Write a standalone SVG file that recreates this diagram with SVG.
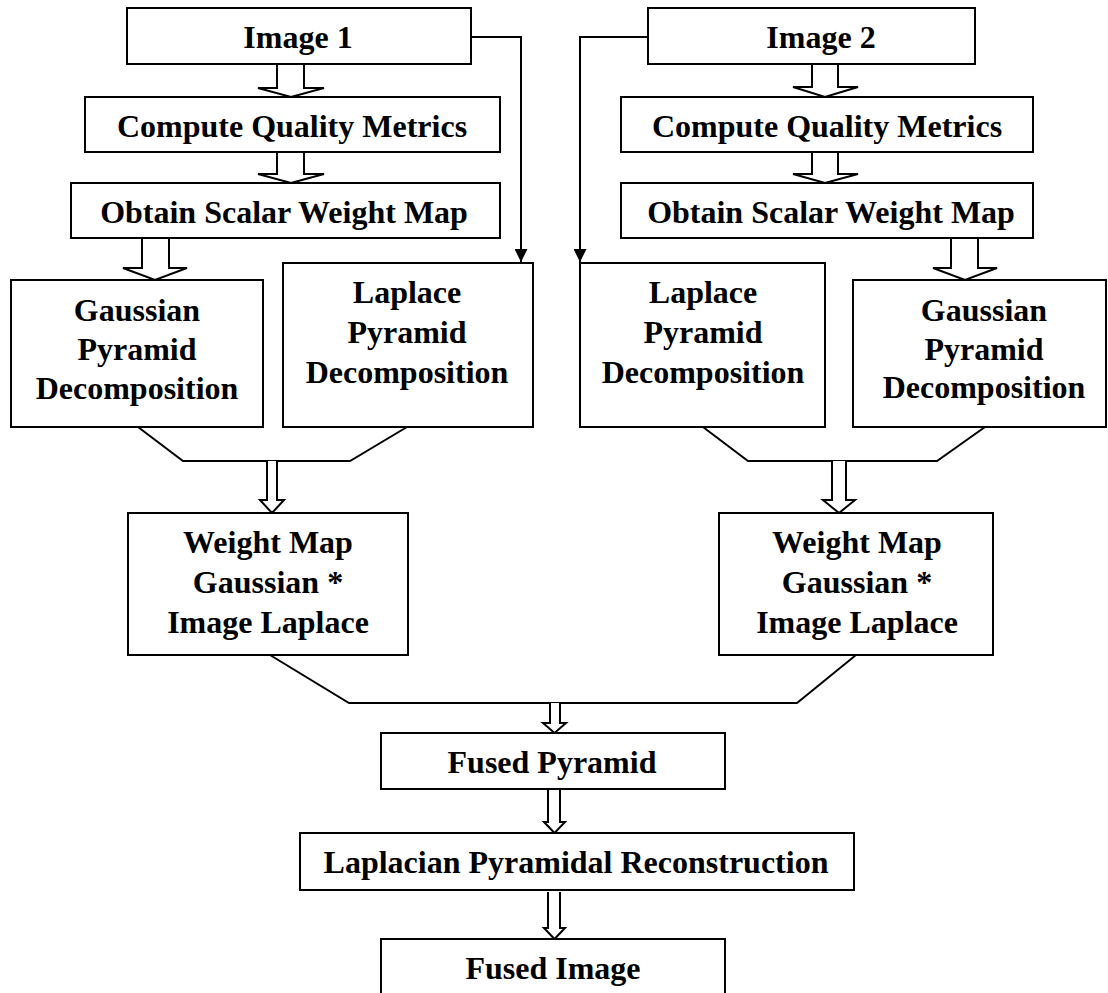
<svg xmlns="http://www.w3.org/2000/svg" width="1108" height="993" viewBox="0 0 1108 993">
<style>
.box{fill:#fff;stroke:#000;stroke-width:2}
.t{font-family:"Liberation Serif","Times New Roman",serif;font-weight:bold;font-size:32px;text-anchor:middle;fill:#000}
.ha{fill:#fff;stroke:#000;stroke-width:2;stroke-linejoin:miter}
.ln{fill:none;stroke:#000;stroke-width:2}
</style>
<defs>
<marker id="ah" viewBox="0 0 10 10" refX="10" refY="5" markerWidth="13" markerHeight="13" markerUnits="userSpaceOnUse" orient="auto">
<path d="M0,0 L10,5 L0,10 Z" fill="#000"/>
</marker>
</defs>
<rect width="1108" height="993" fill="#fff"/>
<g id="connectors">
<path class="ln" d="M471,37 H521 V262" marker-end="url(#ah)"/>
<path class="ln" d="M648,37 H580 V262" marker-end="url(#ah)"/>
<path class="ha" d="M277,64 V88 H258 L291,97 L324,88 H304 V64"/>
<path class="ha" d="M277,152 V174 H258 L291,183 L324,174 H304 V152"/>
<path class="ha" d="M142,238 V268 H123 L155,280 L187,268 H169 V238"/>
<path class="ha" d="M812,64 V87 H793 L825,97 L858,87 H838 V64"/>
<path class="ha" d="M812,152 V174 H793 L825,183 L858,174 H838 V152"/>
<path class="ha" d="M951,238 V268 H933 L965,280 L997,268 H978 V238"/>
<path class="ln" d="M138,427 L183,461 H350 L407,427"/>
<path class="ln" d="M703,427 L748,461 H937 L985,427"/>
<path class="ha" d="M267,461 V500 H260 L272,513 L284,500 H277 V461"/>
<path class="ha" d="M832,461 V500 H823 L839,513 L855,500 H846 V461"/>
<path class="ln" d="M270,655 L349,703 H797 L856,655"/>
<path class="ha" d="M550,703 V723 H543 L554.5,733 L566,723 H560 V703"/>
<path class="ha" d="M548,789 V822 H544 L554.5,833 L565,822 H560 V789"/>
<path class="ha" d="M548,892 V928 H544 L554.5,939 L565,928 H560 V892"/>
</g>
<g id="image1"><rect class="box" x="127" y="8" width="344" height="56"/><text class="t" x="298" y="48">Image 1</text></g>
<g id="cqm1"><rect class="box" x="85" y="97" width="415" height="55"/><text class="t" x="292" y="137">Compute Quality Metrics</text></g>
<g id="oswm1"><rect class="box" x="71" y="183" width="429" height="55"/><text class="t" x="284" y="223">Obtain Scalar Weight Map</text></g>
<g id="image2"><rect class="box" x="648" y="8" width="327" height="56"/><text class="t" x="821" y="48">Image 2</text></g>
<g id="cqm2"><rect class="box" x="621" y="97" width="412" height="55"/><text class="t" x="827" y="137">Compute Quality Metrics</text></g>
<g id="oswm2"><rect class="box" x="621" y="183" width="412" height="55"/><text class="t" x="831" y="223">Obtain Scalar Weight Map</text></g>
<g id="gauss1"><rect class="box" x="11" y="280" width="252" height="147"/><text class="t" x="137" y="321">Gaussian</text><text class="t" x="137" y="360">Pyramid</text><text class="t" x="137" y="399">Decomposition</text></g>
<g id="laplace1"><rect class="box" x="283" y="263" width="250" height="164"/><text class="t" x="407" y="303">Laplace</text><text class="t" x="407" y="343">Pyramid</text><text class="t" x="407" y="383">Decomposition</text></g>
<g id="laplace2"><rect class="box" x="580" y="263" width="245" height="164"/><text class="t" x="703" y="303">Laplace</text><text class="t" x="703" y="343">Pyramid</text><text class="t" x="703" y="383">Decomposition</text></g>
<g id="gauss2"><rect class="box" x="853" y="280" width="253" height="147"/><text class="t" x="984" y="321">Gaussian</text><text class="t" x="984" y="360">Pyramid</text><text class="t" x="984" y="398">Decomposition</text></g>
<g id="wm1"><rect class="box" x="128" y="513" width="280" height="142"/><text class="t" x="268" y="553">Weight Map</text><text class="t" x="268" y="593">Gaussian *</text><text class="t" x="268" y="633">Image Laplace</text></g>
<g id="wm2"><rect class="box" x="719" y="513" width="274" height="142"/><text class="t" x="857" y="553">Weight Map</text><text class="t" x="857" y="593">Gaussian *</text><text class="t" x="857" y="633">Image Laplace</text></g>
<g id="fusedpyramid"><rect class="box" x="381" y="733" width="344" height="56"/><text class="t" x="552" y="773">Fused Pyramid</text></g>
<g id="lpr"><rect class="box" x="300" y="833" width="554" height="57"/><text class="t" x="576" y="873">Laplacian Pyramidal Reconstruction</text></g>
<g id="fusedimage"><rect class="box" x="381" y="939" width="344" height="70"/><text class="t" x="553" y="979">Fused Image</text></g>
</svg>
